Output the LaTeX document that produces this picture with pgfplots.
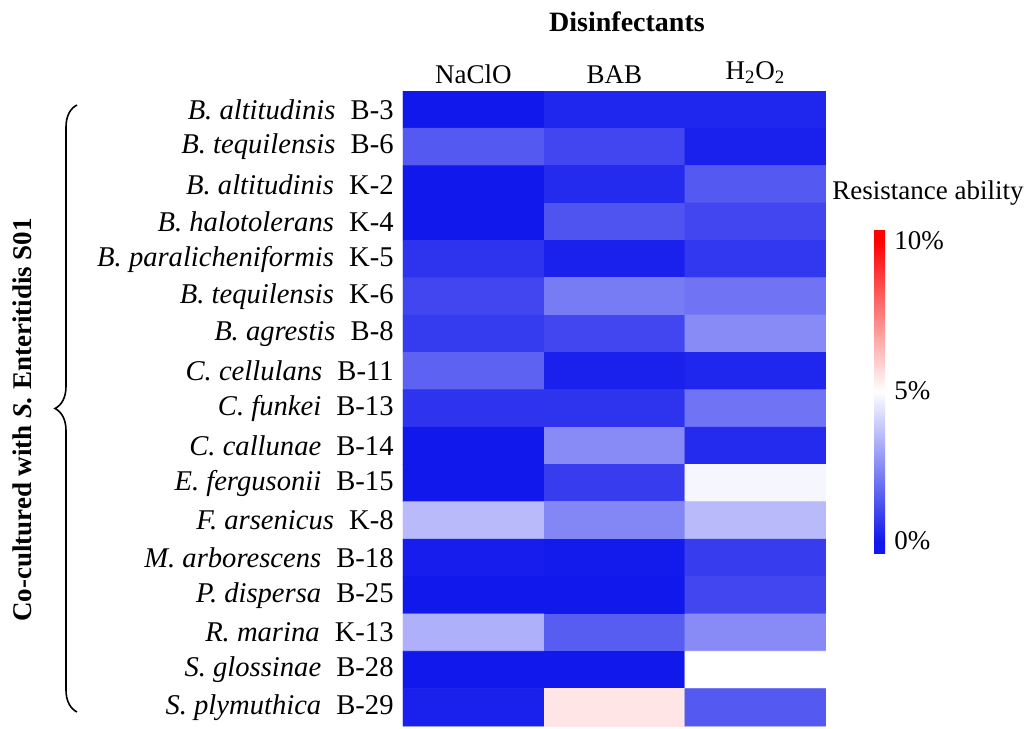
\documentclass[border=0pt]{standalone}
\usepackage{pgfplots}
\pgfplotsset{compat=1.18}
\usepackage{pgfplotstable}
\usepackage{fontspec}
\setmainfont{Liberation Serif}
\usetikzlibrary{decorations.pathreplacing}
\pgfplotstableread{
x y c
0 0 0.0
1 0 0.3
2 0 0.3
0 1 1.4
1 1 1.0
2 1 0.2
0 2 0.0
1 2 0.4
2 2 1.4
0 3 0.0
1 3 1.3
2 3 1.0
0 4 0.6
1 4 0.2
2 4 0.7
0 5 1.0
1 5 2.15
2 5 2.0
0 6 0.75
1 6 1.0
2 6 2.5
0 7 1.6
1 7 0.2
2 7 0.3
0 8 0.6
1 8 0.6
2 8 2.0
0 9 0.0
1 9 2.5
2 9 0.4
0 10 0.0
1 10 0.8
2 10 4.8
0 11 3.5
1 11 2.4
2 11 3.5
0 12 0.1
1 12 0.05
2 12 0.8
0 13 0.0
1 13 0.0
2 13 1.0
0 14 3.3
1 14 1.5
2 14 2.5
0 15 0.0
1 15 0.0
2 15 5.0
0 16 0.2
1 16 5.5
2 16 1.4
}\heatdata
\newcommand{\spname}[2]{\textit{#1}\hspace{0.53em}#2}
\begin{document}
\begin{tikzpicture}
\fontsize{13.5}{16}\selectfont
\path[use as bounding box] (-201.5pt,-1pt) rectangle (314.5pt,363pt);
\begin{axis}[
  name=ax,
  at={(0pt,0pt)}, anchor=south west,
  scale only axis,
  width=211.5pt, height=317.5pt,
  xmin=-0.5, xmax=2.5, ymin=-0.5, ymax=16.5,
  y dir=reverse,
  axis line style={draw=none},
  tick style={draw=none},
  xtick={0,1,2},
  xticklabels={NaClO, BAB, H\textsubscript{2}O\textsubscript{2}},
  xticklabel pos=upper,
  xticklabel style={font=\fontsize{13.5}{16}\selectfont, yshift=-1pt},
  ytick={0,...,16},
  yticklabels={
    {\spname{B. altitudinis}{B-3}},
    {\spname{B. tequilensis}{B-6}},
    {\spname{B. altitudinis}{K-2}},
    {\spname{B. halotolerans}{K-4}},
    {\spname{B. paralicheniformis}{K-5}},
    {\spname{B. tequilensis}{K-6}},
    {\spname{B. agrestis}{B-8}},
    {\spname{C. cellulans}{B-11}},
    {\spname{C. funkei}{B-13}},
    {\spname{C. callunae}{B-14}},
    {\spname{E. fergusonii}{B-15}},
    {\spname{F. arsenicus}{K-8}},
    {\spname{M. arborescens}{B-18}},
    {\spname{P. dispersa}{B-25}},
    {\spname{R. marina}{K-13}},
    {\spname{S. glossinae}{B-28}},
    {\spname{S. plymuthica}{B-29}}},
  yticklabel style={font=\fontsize{14.3}{16}\selectfont},
  colormap={bwr}{rgb255(0cm)=(17,24,236); rgb255(0.4cm)=(17,24,236); rgb255(5.4cm)=(255,255,255); rgb255(10.4cm)=(255,0,0); rgb255(10.8cm)=(255,0,0)},
  point meta min=-0.4, point meta max=10.4,
  colorbar,
  colorbar style={
    at={(parent axis.south east)}, anchor=south west,
    scale only axis,
    xshift=15.5pt, yshift=86.5pt,
    width=5.5pt, height=162pt,
    ytick={0,5,10},
    yticklabels={0\%,5\%,10\%},
    yticklabel style={font=\fontsize{13.5}{16}\selectfont},
    axis line style={draw=none},
    tick style={draw=none},
  },
]
\addplot[matrix plot*, mesh/cols=3, point meta=explicit, shader=flat corner] table[x=x, y=y, meta=c] {\heatdata};
\end{axis}
\node[font=\fontsize{14}{16}\selectfont\bfseries] at ([shift={(112pt,352pt)}]ax.south west) {Disinfectants};
\node[font=\fontsize{13.5}{16}\selectfont] at ([shift={(262.5pt,266.5pt)}]ax.south west) {Resistance ability};
\node[font=\fontsize{13.5}{16}\selectfont\bfseries, rotate=90] at ([shift={(-190.5pt,153pt)}]ax.south west) {Co-cultured with \textit{S.} Enteritidis S01};
\draw[line width=0.8pt, decorate, decoration={brace, amplitude=11pt}] ([shift={(-163pt,7pt)}]ax.south west) -- ([shift={(-163pt,310.5pt)}]ax.south west);
\end{tikzpicture}
\end{document}
